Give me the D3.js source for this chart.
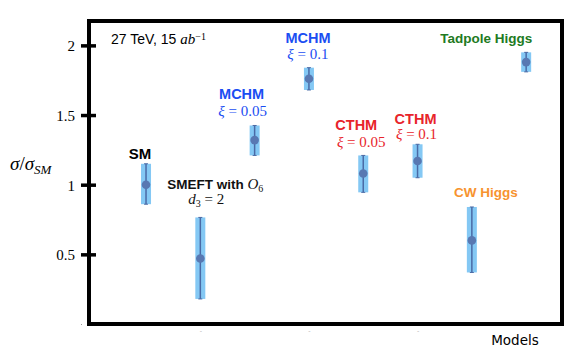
<!DOCTYPE html>
<html>
<head>
<meta charset="utf-8">
<script src="https://cdn.jsdelivr.net/npm/d3@7"></script>
<style>
body { margin: 0; background: #fff; }
</style>
</head>
<body>
<div id="chart"></div>
<script>
// data
var models = ["SM", "SMEFT O6", "MCHM 0.05", "MCHM 0.1", "CTHM 0.05", "CTHM 0.1", "CW Higgs", "Tadpole Higgs"];
var modelIndex = [1, 2, 3, 4, 5, 6, 7, 8];
var central = [1.00, 0.47, 1.32, 1.76, 1.08, 1.17, 0.60, 1.88];
var lower = [0.86, 0.18, 1.21, 1.68, 0.945, 1.05, 0.37, 1.81];
var upper = [1.15, 0.765, 1.425, 1.84, 1.21, 1.29, 0.84, 1.95];
var yTicks = [0, 0.5, 1, 1.5, 2];
var yTickLabels = ["", "0.5", "1", "1.5", "2"];
var xTicks = [2, 4, 6];

// label text: each line is a list of [text, kind]
var labelLines = [
    [[["SM", "b"]]],
    [[["SMEFT with ", "b"], ["O", "m"], ["6", "sub"]], [["d", "m"], ["3", "sub"], [" = 2", "r"]]],
    [[["MCHM", "b"]], [["ξ", "m"], [" = 0.05", "r"]]],
    [[["MCHM", "b"]], [["ξ", "m"], [" = 0.1", "r"]]],
    [[["CTHM", "b"]], [["ξ", "m"], [" = 0.05", "r"]]],
    [[["CTHM", "b"]], [["ξ", "m"], [" = 0.1", "r"]]],
    [[["CW Higgs", "b"]]],
    [[["Tadpole Higgs", "b"]]]
];
var labelColors = ["#000", "#111", "#1b4ef2", "#1b4ef2", "#e8242b", "#e8242b", "#f7932f", "#217a22"];
// per line: [dx from point, dy from upper end]
var labelOffsets = [
    [[-6, -5]],
    [[15, -28], [6, -13]],
    [[-13, -26], [-12, -9]],
    [[-1, -25], [-1, -9]],
    [[-7, -25], [-2, -8]],
    [[-2, -20], [-1, -5]],
    [[14, -10]],
    [[-40, -9]]
];

var svgWidth = 583, svgHeight = 358;
var frame = {left: 89, right: 562, top: 21, bottom: 324};

var svg = d3.select("#chart").append("svg")
    .attr("width", svgWidth).attr("height", svgHeight);

var x = d3.scaleLinear().domain([-0.05, 8.66]).range([frame.left, frame.right]);
var y = d3.scaleLinear().domain([0, 2.175]).range([frame.bottom, frame.top]);

var sans = "'Liberation Sans', Arial, sans-serif";
var serif = "'Liberation Serif', 'Times New Roman', serif";

// y axis
var leftAxis = d3.axisLeft(y).tickValues(yTicks)
    .tickFormat((d, i) => yTickLabels[i]).tickSize(8).tickPadding(6);
var yAxisG = svg.append("g").attr("transform", `translate(${frame.left}, 0)`).call(leftAxis);
yAxisG.select(".domain").remove();
yAxisG.selectAll(".tick line")
    .attr("x1", d => d === 0 ? -7 : 7).attr("x2", -8)
    .attr("stroke", d => d === 0 ? "#999" : "#000")
    .attr("stroke-width", d => d === 0 ? 1 : 3.5);
yAxisG.selectAll(".tick text")
    .attr("x", -14).attr("dy", "0.36em").attr("fill", "#000")
    .style("font-family", serif).style("font-size", "15px");

// x axis, only faint marks
var bottomAxis = d3.axisBottom(x).tickValues(xTicks).tickSize(0).tickFormat(() => "-");
var xAxisG = svg.append("g").attr("transform", `translate(0, ${frame.bottom})`).call(bottomAxis);
xAxisG.select(".domain").remove();
xAxisG.selectAll(".tick text").attr("y", 4).attr("font-size", 7).attr("fill", "#bbb");

// frame
svg.append("rect")
    .attr("x", frame.left).attr("y", frame.top)
    .attr("width", frame.right - frame.left).attr("height", frame.bottom - frame.top)
    .attr("fill", "none").attr("stroke", "#000").attr("stroke-width", 4);

// error bands and points
var points = svg.append("g").selectAll("g").data(models).enter().append("g");
var bandW = 10;
points.append("rect")
    .attr("x", (d, i) => x(modelIndex[i]) - bandW / 2).attr("width", bandW)
    .attr("y", (d, i) => y(upper[i])).attr("height", (d, i) => y(lower[i]) - y(upper[i]))
    .attr("fill", "#84c8f4");
points.append("line")
    .attr("x1", (d, i) => x(modelIndex[i])).attr("x2", (d, i) => x(modelIndex[i]))
    .attr("y1", (d, i) => y(upper[i])).attr("y2", (d, i) => y(lower[i]))
    .attr("stroke", "#4a6aa6").attr("stroke-width", 1.5);
[upper, lower].forEach(arr => {
    points.append("line")
        .attr("x1", (d, i) => x(modelIndex[i]) - 2).attr("x2", (d, i) => x(modelIndex[i]) + 2)
        .attr("y1", (d, i) => y(arr[i])).attr("y2", (d, i) => y(arr[i]))
        .attr("stroke", "#4a6aa6").attr("stroke-width", 1);
});
points.append("circle")
    .attr("cx", (d, i) => x(modelIndex[i])).attr("cy", (d, i) => y(central[i]))
    .attr("r", 4.3).attr("fill", "#5878b2");

// rich text helper
function richText(g, parts, px, py, color, anchor) {
    var t = g.append("text").attr("x", px).attr("y", py)
        .attr("text-anchor", anchor || "middle").attr("fill", color);
    parts.forEach(p => {
        var s = t.append("tspan").text(p[0]);
        if (p[1] === "b") s.attr("font-family", sans).attr("font-weight", "bold").attr("font-size", 14.5);
        else if (p[1] === "n") s.attr("font-family", sans).attr("font-size", 14);
        else if (p[1] === "m") s.attr("font-family", serif).attr("font-style", "italic").attr("font-size", 15);
        else if (p[1] === "r") s.attr("font-family", serif).attr("font-size", 15);
        else if (p[1] === "sub") s.attr("font-family", serif).attr("font-size", 10).attr("baseline-shift", "-25%");
        else if (p[1] === "sup") s.attr("font-family", serif).attr("font-size", 10).attr("baseline-shift", "45%");
    });
    return t;
}

var labels = svg.append("g");
labelLines.forEach((lines, i) => {
    lines.forEach((parts, j) => {
        var off = labelOffsets[i][j];
        var t = richText(labels, parts, x(modelIndex[i]) + off[0], y(upper[i]) + off[1], labelColors[i]);
        if (i === 6 || i === 7) t.selectAll("tspan").attr("font-size", 13.5);
        if (i === 0) t.selectAll("tspan").attr("font-size", 15);
        if (i === 1 && j === 0) t.select("tspan").attr("font-size", 13.5);
    });
});

// annotation and axis titles
richText(svg, [["27 TeV, 15 ", "n"], ["ab", "m"], ["−1", "sup"]], 111, 44, "#000", "start");

var yTitle = svg.append("text").attr("x", 10).attr("y", 170).attr("fill", "#000")
    .attr("font-family", serif);
yTitle.append("tspan").text("σ").attr("font-style", "italic").attr("font-size", 19);
yTitle.append("tspan").text("/").attr("font-size", 19);
yTitle.append("tspan").text("σ").attr("font-style", "italic").attr("font-size", 19);
yTitle.append("tspan").text("SM").attr("font-style", "italic").attr("font-size", 13).attr("baseline-shift", "-30%");

svg.append("text").attr("x", 515).attr("y", 345).attr("text-anchor", "middle")
    .attr("font-family", "'DejaVu Sans', sans-serif").attr("font-size", 13.5)
    .attr("fill", "#000").text("Models");
</script>
</body>
</html>
